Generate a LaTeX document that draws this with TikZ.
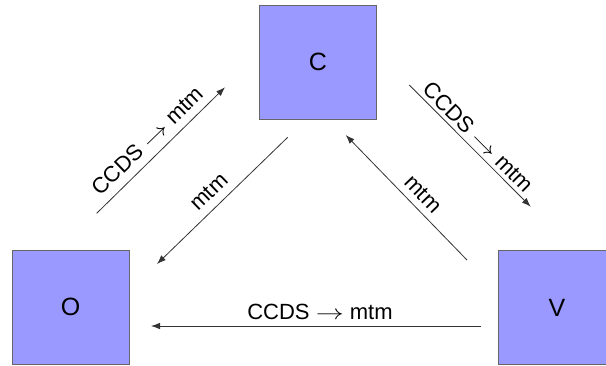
\documentclass[tikz,border=0pt]{standalone}
\usepackage{fontspec}
\setmainfont{Liberation Sans}
\usetikzlibrary{arrows.meta}
\definecolor{boxfill}{HTML}{9999FF}
\definecolor{boxline}{HTML}{666666}
\definecolor{arrowline}{HTML}{333333}
\newcommand{\arr}{\scalebox{1.35}[1]{$\rightarrow$}}
\begin{document}
\begin{tikzpicture}[x=1pt,y=-1pt,
  boxnode/.style={draw=boxline,line width=0.8pt,fill=boxfill,minimum width=117pt,minimum height=114pt,inner sep=0pt,font=\fontsize{25}{30}\selectfont},
  conn/.style={draw=arrowline,line width=0.8pt,-{Latex[length=9pt,width=6.5pt]}},
  lbl/.style={inner sep=0pt,font=\fontsize{22}{26}\selectfont}]
\useasboundingbox (0,0) rectangle (606,365);
\clip (0,0) rectangle (606,365);
\node[boxnode] (C) at (318,62) {C};
\node[boxnode] (O) at (70.5,307) {O};
\node[boxnode] (V) at (557,307.5) {V};
% connector end points
\coordinate (oc1) at (96.7,213.3);
\coordinate (oc2) at (225,87.3);
\coordinate (co1) at (287.7,137.3);
\coordinate (co2) at (157,264);
\coordinate (cv1) at (409.3,85);
\coordinate (cv2) at (530.7,206.7);
\coordinate (vc1) at (467,260);
\coordinate (vc2) at (345.7,135);
\coordinate (vo1) at (481,326);
\coordinate (vo2) at (151,326);
\draw[conn] (oc1) -- (oc2);
\draw[conn] (co1) -- (co2);
\draw[conn] (cv1) -- (cv2);
\draw[conn] (vc1) -- (vc2);
\draw[conn] (vo1) -- (vo2);
\node[lbl,rotate=44] (l1) at (147.5,141) {CCDS \arr{} mtm};
\node[lbl,rotate=44] (l2) at (209,192) {mtm};
\node[lbl,rotate=-45] (l3) at (478,137) {CCDS \arr{} mtm};
\node[lbl,rotate=-46] (l4) at (423,194) {mtm};
\node[lbl] (l5) at (320,312) {CCDS \arr{} mtm};
\end{tikzpicture}
\end{document}
